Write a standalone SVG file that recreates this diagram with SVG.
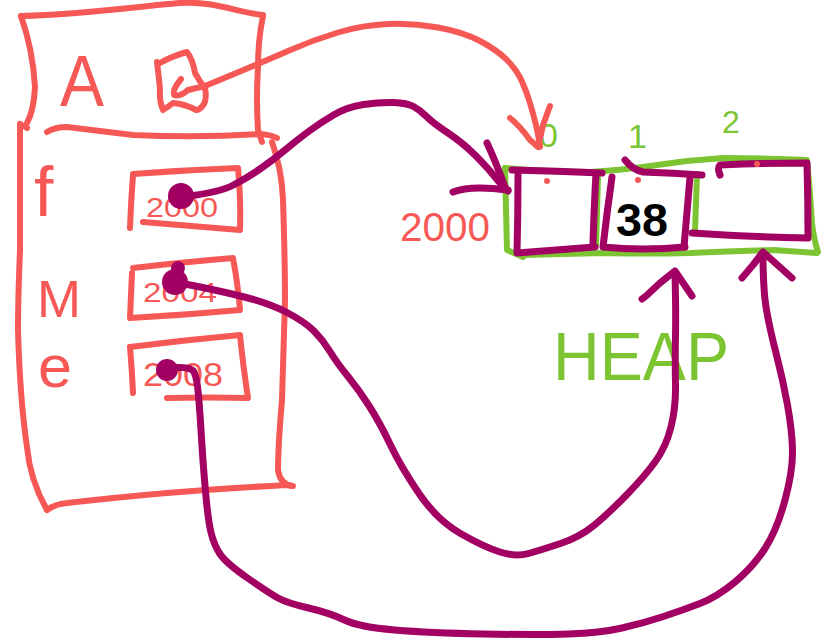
<svg xmlns="http://www.w3.org/2000/svg" width="825" height="642" viewBox="0 0 825 642">
<style>
.r{fill:none;stroke:#F65856;stroke-width:6;stroke-linecap:round;stroke-linejoin:round}
.p{fill:none;stroke:#A20063;stroke-width:7;stroke-linecap:round;stroke-linejoin:round}
.g{fill:none;stroke:#7DC433;stroke-width:6;stroke-linecap:round;stroke-linejoin:round}
.tr{fill:#F65856;font-family:"Liberation Sans",Arial,sans-serif}
.tg{fill:#7DC433;font-family:"Liberation Sans",Arial,sans-serif}
.dot{fill:#A20063}
</style>
<rect width="825" height="642" fill="#fff"/>

<g id="object-frame">
  <path class="r" d="M21,16 C90,14 140,6 180,3 C215,1 235,12 263,15"/>
  <path class="r" d="M21,16 Q33,50 35,87 Q34,110 27,123"/>
  <path class="r" d="M263,16 Q258,40 258,67 Q256,100 258,130 L262,142"/>
  <path class="r" d="M47,132 Q55,127 67,127 Q100,131 133,135 Q200,138 260,134 Q272,135 277,138"/>
  <text class="tr" x="60" y="106" font-size="72" textLength="44" lengthAdjust="spacingAndGlyphs">A</text>
  <path class="r" d="M158,64 Q172,56 187,52 Q193,60 195,73 Q200,82 205,88 Q207,98 204,104 Q200,110 196,110 Q185,104 173,103 Q168,107 163,110 Q159,100 160,90 Q159,78 157,62"/>
  <path class="r" d="M181,79 Q172,90 174,95 Q180,97 188,90"/>
</g>

<g id="stack-frame">
  <path class="r" d="M20,124 L27,128"/>
  <path class="r" d="M20,124 Q20,180 20,250 Q18,300 18,330 Q20,400 27,447 Q30,480 47,510"/>
  <path class="r" d="M47,510 Q55,504 67,503 Q120,497 167,493 Q230,488 287,485 L293,486"/>
  <path class="r" d="M272,142 Q282,170 283,200 Q285,260 285,300 Q283,360 282,400 Q278,447 278,470 Q280,484 292,486"/>
  <text class="tr" x="34" y="216" font-size="70">f</text>
  <text class="tr" x="37" y="317" font-size="52" textLength="44" lengthAdjust="spacingAndGlyphs">M</text>
  <text class="tr" x="38" y="387" font-size="60" textLength="34" lengthAdjust="spacingAndGlyphs">e</text>
</g>

<g id="field-f">
  <path class="r" d="M133,174 Q186,170 238,168 Q241,200 240,230 Q190,226 143,222"/>
  <path class="r" d="M133,175 Q131,200 130,228"/>
  <text class="tr" x="146" y="217" font-size="28" textLength="72" lengthAdjust="spacingAndGlyphs">2000</text>
</g>

<g id="field-m">
  <path class="r" d="M133,268 Q185,262 233,258 Q238,285 240,310 Q185,315 130,318 Q131,295 132,273"/>
  <text class="tr" x="143" y="302" font-size="28" textLength="74" lengthAdjust="spacingAndGlyphs">2004</text>
</g>

<g id="field-e">
  <path class="r" d="M130,347 Q185,340 240,335 Q243,365 248,398 Q210,397 167,398"/>
  <path class="r" d="M130,347 Q132,370 133,393"/>
  <text class="tr" x="143" y="386" font-size="33" textLength="80" lengthAdjust="spacingAndGlyphs">2008</text>
</g>

<g id="heap-array">
  <text class="tg" x="539" y="147" font-size="34">0</text>
  <text class="tg" x="628" y="148" font-size="34">1</text>
  <text class="tg" x="722" y="133" font-size="32">2</text>
  <path class="g" d="M505,168 Q550,172 590,172 Q625,170 657,165 Q690,160 723,158 Q770,158 807,160 Q810,190 812,223 Q814,240 818,252"/>
  <path class="g" d="M505,168 Q506,210 507,250 L523,257"/>
  <path class="g" d="M523,255 Q563,254 603,253 Q650,254 690,253 Q730,251 773,250 L817,253"/>
  <path class="g" d="M598,178 L596,245"/>
  <path class="g" d="M697,174 L695,232"/>
  <path class="p" d="M512,170 Q557,171 602,173"/>
  <path class="p" d="M518,175 Q518,215 517,253 Q557,250 595,247"/>
  <path class="p" d="M596,173 Q594,210 593,243"/>
  <path class="p" d="M625,160 Q633,170 643,172 Q673,173 702,175"/>
  <path class="p" d="M612,177 Q607,212 603,247 Q643,251 685,247"/>
  <path class="p" d="M690,177 Q687,212 684,247"/>
  <path class="p" d="M720,175 Q717,168 720,165 Q765,163 807,163 Q808,200 808,238 Q750,237 692,233"/>
  <text x="616" y="236" font-size="46" font-weight="bold" font-family="Liberation Sans,Arial,sans-serif" fill="#000" textLength="52" lengthAdjust="spacingAndGlyphs">38</text>
  <circle cx="547" cy="181" r="3" fill="#F65856"/>
  <circle cx="638" cy="180" r="3" fill="#F65856"/>
  <circle cx="757" cy="164" r="3" fill="#F65856"/>
  <text class="tr" x="400" y="241" font-size="40" textLength="90" lengthAdjust="spacingAndGlyphs">2000</text>
  <text class="tg" x="553" y="380" font-size="68" textLength="176" lengthAdjust="spacingAndGlyphs">HEAP</text>
</g>

<g id="connectors">
  <path class="r" d="M188,90 L205,86 Q263,62 288,51 Q313,40 338,32.5 Q363,25 388,24 Q413,23 438,27.5 Q463,32 480,41 Q497,50 507,60 Q517,70 522,81.5 Q527,93 530,103 Q533,113 535.5,123 Q538,133 540,147"/>
  <path class="r" d="M510,118 Q520,126 530,140 L538,147 M550,106 L543,125 L538,147"/>
  <path class="p" d="M190,196 Q220,192 233.5,185 Q247,178 260,169 Q273,160 285,150 Q297,140 308.5,131.5 Q320,123 333.5,115 Q347,107 363.5,104.5 Q380,102 393.5,102.5 Q407,103 413.5,106.5 Q420,110 426.5,116.5 Q433,123 448,133 Q463,143 475,155 Q487,167 495,177 Q503,187 508,191"/>
  <path class="p" d="M487,143 Q495,160 505,187 M453,192 Q470,185 508,190"/>
  <path class="p" d="M185,284 Q216,290 242.5,296.5 Q269,303 287,312.5 Q305,322 314,331 Q323,340 330,351.5 Q337,363 348,376.5 Q359,390 369.5,406.5 Q380,423 390.5,445 Q401,467 419,493.5 Q437,520 460.5,533.5 Q484,547 500,552 Q516,557 528.5,553.5 Q541,550 560.5,543.5 Q580,537 594.5,525 Q609,513 626.5,495 Q644,477 655,462 Q666,447 671,427 Q676,407 675.5,383.5 Q675,360 675.5,335 Q676,310 675,275"/>
  <path class="p" d="M642,299 L646,296 L660,283 L675,271 L692,296"/>
  <path class="p" d="M172,368 Q191,366 194,372 Q197,378 198.5,395.5 Q200,413 201.5,438 Q203,463 205.5,491.5 Q208,520 211,532.5 Q214,545 220,554 Q226,563 247.5,578 Q269,593 278,598 Q287,603 308.5,608 Q330,613 344.5,620 Q359,627 394.5,630 Q430,633 483.5,634 Q537,635 568.5,634 Q600,633 622,628 Q644,623 663.5,616.5 Q683,610 700,603.5 Q717,597 735,582 Q753,567 765,548.5 Q777,530 785,500 Q793,470 792.5,450 Q792,430 787.5,405 Q783,380 776.5,355 Q770,330 766.5,310 Q763,290 763,253"/>
  <path class="p" d="M742,278 L753,265 L763,252 L792,278"/>
  <circle class="dot" cx="181" cy="196" r="13"/>
  <circle class="dot" cx="175" cy="282" r="13"/>
  <circle class="dot" cx="178" cy="268" r="7"/>
  <circle class="dot" cx="167" cy="370" r="11"/>
</g>
</svg>
